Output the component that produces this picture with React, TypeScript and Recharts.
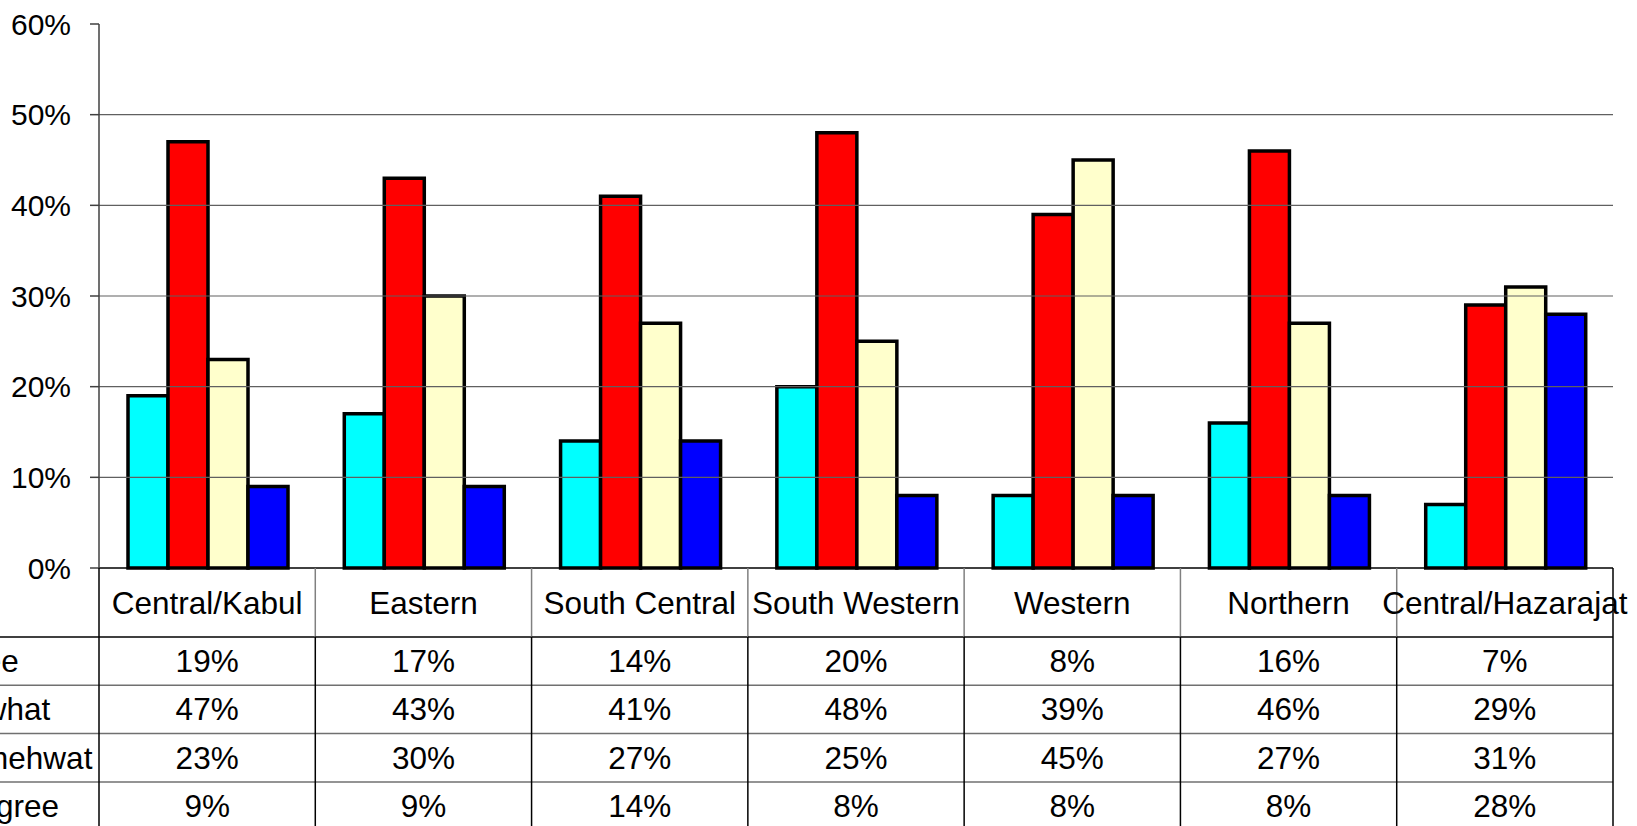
import { BarChart, Bar, XAxis, YAxis, ReferenceLine } from 'recharts';

const categories = ['Central/Kabul', 'Eastern', 'South Central', 'South Western', 'Western', 'Northern', 'Central/Hazarajat'];
const agreeStrongly = [19, 17, 14, 20, 8, 16, 7];
const agreeSomewhat = [47, 43, 41, 48, 39, 46, 29];
const disagreeSomewhat = [23, 30, 27, 25, 45, 27, 31];
const disagreeStrongly = [9, 9, 14, 8, 8, 8, 28];
const seriesNames = ['Strongly agree', 'Agree somewhat', 'Disagree somehwat', 'Strongly disagree'];
const seriesKeys = ['s1', 's2', 's3', 's4'];
const seriesColors = ['#00FFFF', '#FF0000', '#FFFFCC', '#0000FF'];
const yTicks = [0, 10, 20, 30, 40, 50, 60];
const gridValues = [10, 20, 30, 40, 50];

const W = 1637;
const H = 826;
const LEFT = 99;
const RIGHT_M = 24;
const COL_W = (W - LEFT - RIGHT_M) / categories.length;
const FONT = '"Liberation Sans", Arial, sans-serif';

// header 69px, then four rows of 48px
const HEADER_H = 69;
const ROW_H = 48.3;

const data = categories.map((c, i) => ({
  name: c,
  s1: agreeStrongly[i],
  s2: agreeSomewhat[i],
  s3: disagreeSomewhat[i],
  s4: disagreeStrongly[i],
}));

const allValues = [agreeStrongly, agreeSomewhat, disagreeSomewhat, disagreeStrongly];

const TableTick = (props: any) => {
  const { x, y, payload } = props;
  const i = payload.index ?? props.index ?? 0;
  const left = x - COL_W / 2;
  const right = x + COL_W / 2;
  const rowTop = (r: number) => y + HEADER_H + r * ROW_H;
  const isLast = i === categories.length - 1;

  return (
    <g fontFamily={FONT}>
      {/* header cell */}
      <line x1={left} y1={y} x2={left} y2={y + HEADER_H} stroke={i === 0 ? '#000' : '#808080'} strokeWidth={1.5} />
      {isLast && <line x1={right} y1={y} x2={right} y2={y + HEADER_H} stroke="#000" strokeWidth={1.5} />}
      <text x={x} y={y + HEADER_H / 2} dy="0.35em" textAnchor="middle" fontSize={31.5} fill="#000">
        {payload.value}
      </text>

      {/* value rows */}
      {allValues.map((vals, r) => (
        <g key={r}>
          <line
            x1={i === 0 ? 0 : left}
            y1={rowTop(r)}
            x2={right}
            y2={rowTop(r)}
            stroke={r === 0 ? '#000' : '#707070'}
            strokeWidth={1.5}
          />
          <text x={x} y={rowTop(r) + ROW_H / 2} dy="0.35em" textAnchor="middle" fontSize={31.5} fill="#000">
            {`${vals[i]}%`}
          </text>
          {i === 0 && (
            <text x={-186} y={rowTop(r) + ROW_H / 2} dy="0.35em" textAnchor="start" fontSize={31.5} fill="#000">
              {seriesNames[r]}
            </text>
          )}
        </g>
      ))}
      <line x1={left} y1={rowTop(0)} x2={left} y2={H} stroke="#000" strokeWidth={1.5} />
      {isLast && <line x1={right} y1={rowTop(0)} x2={right} y2={H} stroke="#000" strokeWidth={1.5} />}
    </g>
  );
};

export default function App() {
  return (
    <div style={{ position: 'absolute', left: 0, top: 0, width: W, height: H, background: '#fff' }}>
      <BarChart
        width={W}
        height={H}
        data={data}
        margin={{ top: 24, right: RIGHT_M, left: 0, bottom: 0 }}
        barCategoryGap={29}
        barGap={0}
      >
        {gridValues.map((v) => (
          <ReferenceLine key={v} y={v} stroke="#606060" strokeWidth={1.2} />
        ))}
        <XAxis
          dataKey="name"
          height={H - 568}
          interval={0}
          tickLine={false}
          tickSize={0}
          tickMargin={0}
          axisLine={{ stroke: '#000', strokeWidth: 1.5 }}
          tick={<TableTick />}
        />
        <YAxis
          width={LEFT}
          domain={[0, 60]}
          ticks={yTicks}
          interval={0}
          tickFormatter={(v: number) => `${v}%`}
          tickSize={9}
          tickMargin={19}
          axisLine={{ stroke: '#404040', strokeWidth: 1.5 }}
          tickLine={{ stroke: '#404040', strokeWidth: 1.5 }}
          tick={{ fill: '#000', fontSize: 30, fontFamily: FONT }}
        />
        {seriesKeys.map((k, i) => (
          <Bar
            key={k}
            dataKey={k}
            name={seriesNames[i]}
            fill={seriesColors[i]}
            stroke="#000"
            strokeWidth={3.5}
            isAnimationActive={false}
          />
        ))}
      </BarChart>
    </div>
  );
}
